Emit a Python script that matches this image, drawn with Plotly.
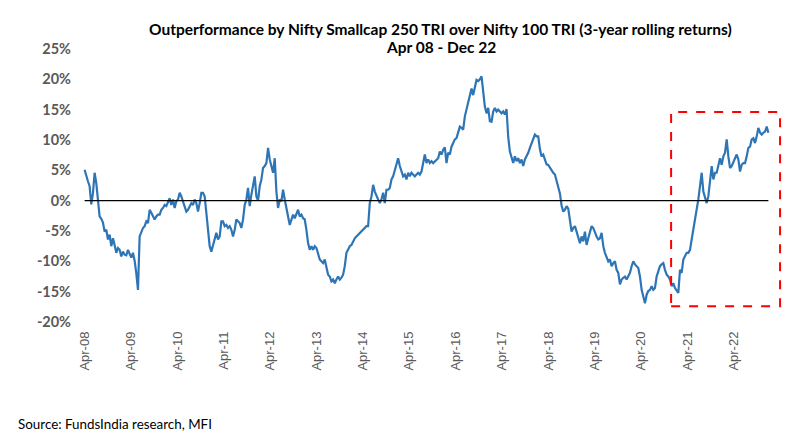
import pandas as pd
import plotly.graph_objects as go

# ---- data (3-year rolling outperformance, % points), roughly every ~2 weeks ----
start_date = "2008-04-01"
end_date = "2022-12-28"

outperf_2008_2010 = [
    5.1, 3.9, 3.2, 2.4, -0.6, 1.2, 4.6, 2.9, 0.2, -2.6,
    -3.0, -3.6, -5.1, -4.8, -6.4, -5.6, -7.5, -6.2, -7.3, -8.6,
    -7.8, -8.1, -9.2, -8.4, -8.9, -9.0, -8.1, -8.9, -9.4, -8.6,
    -9.9, -12.0, -14.7, -5.9, -5.0, -4.5, -4.2, -3.4, -3.7, -1.5,
    -2.0, -2.6, -3.1, -2.6, -2.3, -2.3, -1.5, -1.2, -0.7, -0.9,
    -0.1, 0.4, -0.7, 0.2, -1.2, -0.1, 0.2, 1.3, 0.7, -0.1,
    -0.9, -1.8, -1.5, -0.9, -0.4, -0.7, 0.2, -0.4, -1.8, -0.4,
    1.3, 1.3, 0.7, -2.0, -4.8, -7.5, -8.4, -7.5, -6.4, -5.3,
]
outperf_2011_2013 = [
    -6.4, -5.9, -3.4, -3.4, -4.2, -4.0, -4.5, -4.2, -4.8, -5.9,
    -4.8, -3.1, -3.4, -3.7, -4.5, -3.1, -0.7, 0.2, 2.1, -0.9,
    1.0, 2.9, 4.0, 0.7, 0.0, 2.4, 3.5, 5.4, 5.7, 6.2,
    8.7, 6.8, 5.7, 4.6, 7.0, 1.5, -1.2, 0.2, -0.1, 1.8,
    0.2, -1.5, -2.6, -4.0, -3.1, -2.3, -2.9, -2.0, -1.5, -2.6,
    -2.3, -2.9, -3.1, -4.8, -7.0, -8.1, -7.5, -8.1, -7.5, -7.8,
    -8.9, -9.7, -10.0, -10.3, -9.7, -10.8, -12.2, -12.5, -13.3, -13.0,
    -13.6, -13.0, -12.5,
    -13.0, -12.7, -12.2, -10.8, -8.6, -8.1, -7.5, -7.3, -6.7, -6.2,
    -5.9, -5.6, -5.3, -5.1, -4.8, -4.5, -4.2, -4.2,
]
outperf_2014_2016 = [
    -0.4, 0.7, 2.6, 1.5, 0.7, 0.2, -0.4, 0.2, 1.3, -0.4,
    1.8, 1.8, 2.1, 3.5, 4.0, 5.1, 6.2, 7.0, 5.7, 4.8,
    4.0, 4.3, 3.5, 4.6, 4.0, 4.6, 4.3, 4.0, 4.3, 4.6,
    4.3, 4.8, 6.2, 7.6, 6.2, 6.8, 6.2, 6.5, 6.2, 6.5,
    6.8, 7.0, 8.1, 7.6, 8.4, 8.8, 6.2, 7.9, 7.6, 8.9,
    9.5, 10.1, 10.3, 11.4, 12.2, 12.0, 11.7, 13.9, 15.0, 16.6,
]
outperf_2016_2019 = [
    17.7, 18.5, 17.4, 18.5, 19.9, 19.7, 20.0, 20.5, 18.0, 15.5,
    14.4, 15.3, 13.1, 13.0, 14.7, 15.3, 14.7, 15.0, 14.7, 14.4,
    14.7, 14.2, 15.1, 10.5, 8.1, 7.0, 6.2, 7.3, 6.5, 7.0,
    6.2, 6.8, 5.7, 6.8, 7.3, 7.9, 8.7, 9.5, 10.3, 10.9,
    10.6, 10.6, 8.5, 7.3, 7.6, 6.8, 6.0, 5.9, 5.4, 5.1,
    4.6, 4.3, 3.4, 2.5, 1.2, -0.8, -1.8, -1.5, -0.9, -1.3,
    -3.1, -5.1, -4.5, -4.2, -5.1, -5.9,
]
outperf_2019_2022 = [
    -7.0, -5.9, -6.7, -5.1, -7.3, -6.2, -5.3, -4.2, -4.5, -5.3,
    -5.9, -6.4, -6.2, -5.3, -7.5, -8.6, -9.2, -10.0, -9.7, -10.8,
    -10.3, -10.0, -11.4, -11.9, -13.8, -13.0, -12.7, -12.5, -13.0, -12.5,
    -11.9, -10.8, -10.0, -10.5, -10.8, -11.1, -12.5, -14.7, -15.8, -16.9,
    -15.5, -14.9, -14.7, -14.1, -14.7, -14.4, -12.5, -11.4, -10.8, -10.5,
    -10.3, -11.4, -12.2, -12.5, -13.0, -14.1, -13.6, -14.4, -14.9, -15.2,
    -11.4, -11.9, -9.7, -9.2, -8.6, -8.6, -8.1, -6.4, -4.8, -3.7,
    -2.0, 0.2, 2.4, 4.6, 1.5, 0.7, -0.4, 0.7, 3.5, 5.7,
    3.5, 4.6, 4.6, 5.7, 7.0, 5.9, 7.3, 7.9, 10.1, 7.3,
    5.4, 5.7, 6.5, 7.0, 7.6, 6.8, 4.8, 5.9, 6.2, 6.2,
    7.3, 8.7, 8.9, 10.1, 10.3, 9.5, 10.6, 12.0, 11.2, 10.9,
    11.2, 11.4, 12.2, 11.2,
]

tick_dates = [f"{y}-04-01" for y in range(2008, 2023)]
tick_labels = [f"Apr-{y % 100:02d}" for y in range(2008, 2023)]
y_ticks = [25, 20, 15, 10, 5, 0, -5, -10, -15, -20]
y_tick_labels = [f"{v}%" for v in y_ticks]

highlight_start = "2020-11-22"
highlight_end = "2023-03-30"
highlight_top = 14.6
highlight_bottom = -17.4

title_line1 = "Outperformance by Nifty Smallcap 250 TRI over Nifty 100 TRI (3-year rolling returns)"
title_line2 = "Apr 08 - Dec 22"
source_text = "Source: FundsIndia research, MFI"

# ---- build ----
values = (outperf_2008_2010 + outperf_2011_2013 + outperf_2014_2016
          + outperf_2016_2019 + outperf_2019_2022)
dates = pd.date_range(start_date, end_date, periods=len(values))
zero_line = [0 for _ in values]

fig = go.Figure()
fig.add_trace(go.Scatter(x=dates, y=values, mode="lines",
                         line=dict(color="#2E75B6", width=2.2),
                         showlegend=False, hoverinfo="x+y"))
fig.add_trace(go.Scatter(x=dates, y=zero_line, mode="lines",
                         line=dict(color="#000000", width=1.3),
                         showlegend=False, hoverinfo="skip"))

fig.add_shape(type="rect", xref="x", yref="y",
              x0=highlight_start, x1=highlight_end,
              y0=highlight_bottom, y1=highlight_top,
              line=dict(color="#FF0000", width=2, dash="dash"),
              fillcolor="rgba(0,0,0,0)")

title_font = dict(family="Lato", size=15.5, color="#000000", weight="bold")

fig.update_layout(
    width=794, height=437,
    paper_bgcolor="white", plot_bgcolor="white",
    margin=dict(l=78, r=10, t=49, b=115),
    xaxis=dict(type="date", range=["2008-02-09", "2023-04-30"],
               tickvals=tick_dates, ticktext=tick_labels, tickangle=-90,
               tickfont=dict(family="Liberation Sans", size=13, color="#595959"),
               showgrid=False, zeroline=False, showline=False, ticks="",
               ticklabelstandoff=6),
    yaxis=dict(range=[-20, 25], tickvals=y_ticks, ticktext=y_tick_labels,
               tickfont=dict(family="Lato", size=14.5, color="#595959", weight="bold"),
               showgrid=False, zeroline=False, showline=False, ticks="",
               ticklabelstandoff=6),
    annotations=[
        dict(text=title_line1, xref="paper", yref="paper", x=0.514, y=1.0733,
             xanchor="center", yanchor="middle", showarrow=False, font=title_font),
        dict(text=title_line2, xref="paper", yref="paper", x=0.514, y=1.0073,
             xanchor="center", yanchor="middle", showarrow=False, font=title_font),
        dict(text=source_text, xref="paper", yref="paper",
             x=-0.0878, y=-0.374, xanchor="left", yanchor="middle",
             showarrow=False,
             font=dict(family="Lato", size=13.4, color="#000000")),
    ],
)

fig.write_html("out.html", config={"displayModeBar": False},
               post_script="document.body.style.margin='0px';")
